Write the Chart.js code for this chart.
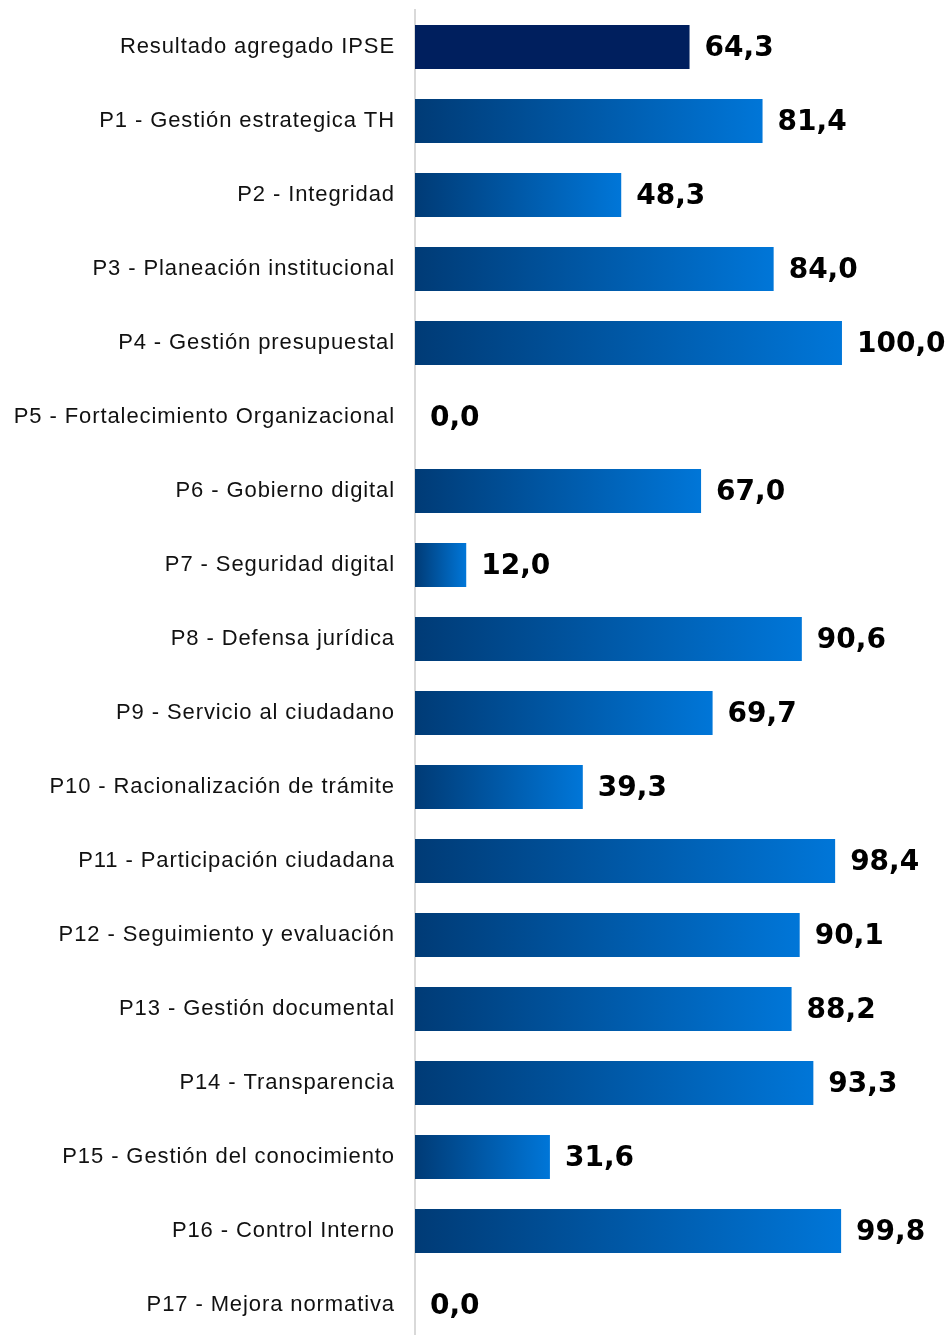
<!DOCTYPE html>
<html>
<head>
<meta charset="utf-8">
<script src="https://cdn.jsdelivr.net/npm/chart.js@4"></script>
<style>
	html, body { margin: 0; padding: 0; background: #fff; overflow: hidden; }
	#chart { display: block; }
</style>
</head>
<body>
<canvas id="chart" width="947" height="1342"></canvas>
<script>
const categories = [
	'Resultado agregado IPSE',
	'P1 - Gestión estrategica TH',
	'P2 - Integridad',
	'P3 - Planeación institucional',
	'P4 - Gestión presupuestal',
	'P5 - Fortalecimiento Organizacional',
	'P6 - Gobierno digital',
	'P7 - Seguridad digital',
	'P8 - Defensa jurídica',
	'P9 - Servicio al ciudadano',
	'P10 - Racionalización de trámite',
	'P11 - Participación ciudadana',
	'P12 - Seguimiento y evaluación',
	'P13 - Gestión documental',
	'P14 - Transparencia',
	'P15 - Gestión del conocimiento',
	'P16 - Control Interno',
	'P17 - Mejora normativa'
];
const scores = [64.3, 81.4, 48.3, 84.0, 100.0, 0.0, 67.0, 12.0, 90.6, 69.7, 39.3, 98.4, 90.1, 88.2, 93.3, 31.6, 99.8, 0.0];

// bar fill: first one solid navy, rest a left-to-right blue gradient
const barFill = (ctx) => {
	if (ctx.dataIndex === 0) return '#001f5e';
	const chart = ctx.chart;
	if (!chart.chartArea) return '#0060b0';
	const x = chart.scales.x;
	const x0 = x.getPixelForValue(0);
	const x1 = x.getPixelForValue(scores[ctx.dataIndex]);
	if (x1 - x0 < 1) return '#0060b0';
	const g = chart.ctx.createLinearGradient(x0, 0, x1, 0);
	g.addColorStop(0, '#003b76');
	g.addColorStop(1, '#0076d8');
	return g;
};

const labelSpacing = {
	id: 'labelSpacing',
	beforeDraw: (chart) => { chart.ctx.letterSpacing = '0.9px'; },
	afterDraw: (chart) => { chart.ctx.letterSpacing = '0px'; }
};

const valueLabels = {
	id: 'valueLabels',
	afterDatasetsDraw: (chart) => {
		const ctx = chart.ctx;
		const meta = chart.getDatasetMeta(0);
		ctx.save();
		ctx.letterSpacing = '0px';
		ctx.font = 'bold 28px "DejaVu Sans"';
		ctx.fillStyle = '#000';
		ctx.textAlign = 'left';
		ctx.textBaseline = 'middle';
		meta.data.forEach((bar, i) => {
			const txt = scores[i].toFixed(1).replace('.', ',');
			ctx.fillText(txt, bar.x + 15, bar.y + 2);
		});
		ctx.restore();
	}
};

new Chart(document.getElementById('chart'), {
	type: 'bar',
	data: {
		labels: categories,
		datasets: [{
			data: scores,
			backgroundColor: barFill,
			borderWidth: 0,
			categoryPercentage: 1,
			barPercentage: 44 / 74
		}]
	},
	options: {
		indexAxis: 'y',
		responsive: false,
		animation: false,
		layout: { padding: { top: 10, right: 0, bottom: 0, left: 0 } },
		plugins: { legend: { display: false }, tooltip: { enabled: false } },
		scales: {
			x: {
				display: false,
				min: 0,
				max: 124.6
			},
			y: {
				afterFit: (scale) => {
					scale.width = 415;
					scale.paddingTop = 0;
					scale.paddingBottom = 0;
				},
				grid: { display: false, drawTicks: false },
				border: { display: true, color: '#d9d9d9', width: 2 },
				ticks: {
					padding: 20,
					color: '#111',
					font: { family: 'Liberation Sans, Arial', size: 22 }
				}
			}
		}
	},
	plugins: [labelSpacing, valueLabels]
});
</script>
</body>
</html>
